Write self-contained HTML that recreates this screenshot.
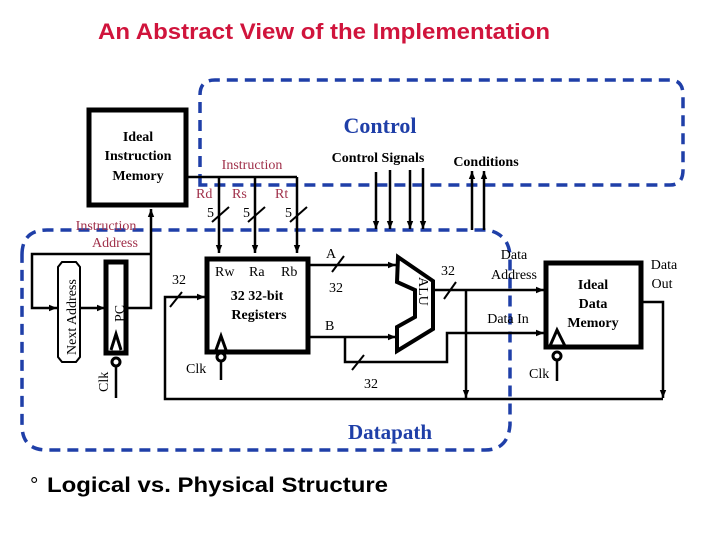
<!DOCTYPE html>
<html><head><meta charset="utf-8"><style>
body{margin:0;background:#fff;width:720px;height:540px;overflow:hidden}
svg{display:block}
.s{font-family:"Liberation Serif",serif}
</style></head><body>
<svg width="720" height="540" viewBox="0 0 720 540" xmlns="http://www.w3.org/2000/svg">
<defs><marker id="a" viewBox="0 0 10 10" refX="10" refY="5" markerUnits="userSpaceOnUse" markerWidth="8" markerHeight="8" orient="auto"><path d="M0,1 L10,5 L0,9 Z" fill="#000"/></marker></defs>
<text x="98" y="39" textLength="452" lengthAdjust="spacingAndGlyphs" font-family="Liberation Sans,sans-serif" font-size="22" font-weight="bold" fill="#d0143c">An Abstract View of the Implementation</text>

<path d="M200,185 L200,95 Q200,80 215,80 L670,80 Q683,80 683,95 L683,170 Q683,185 670,185 Z" fill="none" stroke="#1f3fa8" stroke-width="3.5" stroke-dasharray="11,7"/>
<path d="M22,255 Q22,230 47,230 L488,230 Q510,235 510,258 L510,425 Q508,450 485,450 L47,450 Q22,450 22,425 Z" fill="none" stroke="#1f3fa8" stroke-width="3.5" stroke-dasharray="11,7"/>

<text x="380" y="133" text-anchor="middle" class="s" font-size="22" font-weight="bold" fill="#1f3fa8">Control</text>
<text x="390" y="439" text-anchor="middle" class="s" font-size="21" font-weight="bold" fill="#1f3fa8">Datapath</text>

<g fill="none" stroke="#000" stroke-width="2.5">
<rect x="89" y="110" width="97" height="95" stroke-width="5"/>
<path d="M186,177 L297,177"/>
<path d="M219,177 L219,253" marker-end="url(#a)"/><path d="M255,177 L255,253" marker-end="url(#a)"/><path d="M297,177 L297,253" marker-end="url(#a)"/>
<path d="M212,222 L229,207 M248,222 L265,207 M290,222 L307,207" stroke-width="2"/>
<rect x="207" y="259" width="101" height="93" stroke-width="5"/>
<rect x="106" y="262" width="20" height="91" stroke-width="5"/>
<path d="M62,262 L76,262 L80,267 L80,357 L76,362 L62,362 L58,357 L58,267 Z" stroke-width="2"/>
<path d="M126,308 L151,308 L151,209" marker-end="url(#a)"/>
<path d="M151,254 L32,254 L32,308 L57,308" marker-end="url(#a)"/>
<path d="M80,308 L105,308" marker-end="url(#a)"/>
<path d="M111,350 L116,334 L121,350" stroke-width="3"/>
<circle cx="116" cy="362" r="4" stroke-width="3"/><path d="M116,366 L116,398"/>
<path d="M216,350 L221,336 L226,350" stroke-width="3"/>
<circle cx="221" cy="357" r="4" stroke-width="3"/><path d="M221,361 L221,380"/>
<path d="M550,346 L557,330 L565,346" stroke-width="3"/>
<circle cx="557" cy="356" r="4" stroke-width="3"/><path d="M557,360 L557,381"/>
<path d="M663,399 L165,399 L165,297 L205,297" marker-end="url(#a)"/>
<path d="M170,307 L182,292 M332,272 L344,256 M352,370 L364,355 M444,299 L456,282" stroke-width="2"/>
<path d="M308,265 L396,265" marker-end="url(#a)"/>
<path d="M308,337 L396,337" marker-end="url(#a)"/>
<path d="M345,337 L345,362 L447,362 L447,333 L544,333" marker-end="url(#a)"/>
<path d="M398,257 L433,281 L433,329 L397,351 L397,327 L415,317 L415,290 L397,282 Z" stroke-width="4"/>
<path d="M433,290 L544,290" marker-end="url(#a)"/>
<path d="M466,290 L466,398" marker-end="url(#a)"/>
<rect x="546" y="263" width="95" height="84" stroke-width="5"/>
<path d="M641,302 L663,302 L663,398" marker-end="url(#a)"/>
<path d="M376,172 L376,229" marker-end="url(#a)"/><path d="M390,170 L390,229" marker-end="url(#a)"/>
<path d="M410,170 L410,229" marker-end="url(#a)"/><path d="M423,168 L423,229" marker-end="url(#a)"/>
<path d="M472,230 L472,171" marker-end="url(#a)"/><path d="M484,230 L484,171" marker-end="url(#a)"/>
</g>

<g class="s" font-size="14" fill="#000">
<text x="138" y="141" text-anchor="middle" font-weight="bold">Ideal</text>
<text x="138" y="160" text-anchor="middle" font-weight="bold">Instruction</text>
<text x="138" y="180" text-anchor="middle" font-weight="bold">Memory</text>
<text x="252" y="169" text-anchor="middle" fill="#a0304a">Instruction</text>
<text x="196" y="198" fill="#a0304a">Rd</text><text x="232" y="198" fill="#a0304a">Rs</text><text x="275" y="198" fill="#a0304a">Rt</text>
<text x="207" y="217">5</text><text x="243" y="217">5</text><text x="285" y="217">5</text>
<text x="106" y="230" text-anchor="middle" fill="#a0304a">Instruction</text>
<text x="115" y="247" text-anchor="middle" fill="#a0304a">Address</text>
<text x="378" y="162" text-anchor="middle" font-weight="bold">Control Signals</text>
<text x="486" y="166" text-anchor="middle" font-weight="bold">Conditions</text>
<text x="215" y="276">Rw</text><text x="249" y="276">Ra</text><text x="281" y="276">Rb</text>
<text x="257" y="300" text-anchor="middle" font-weight="bold">32 32-bit</text>
<text x="259" y="319" text-anchor="middle" font-weight="bold">Registers</text>
<text x="172" y="284">32</text>
<text x="326" y="258">A</text><text x="329" y="292">32</text>
<text x="325" y="330">B</text><text x="364" y="388">32</text>
<text x="441" y="275">32</text>
<text x="514" y="259" text-anchor="middle">Data</text>
<text x="514" y="279" text-anchor="middle">Address</text>
<text x="508" y="323" text-anchor="middle">Data In</text>
<text x="593" y="289" text-anchor="middle" font-weight="bold">Ideal</text>
<text x="593" y="308" text-anchor="middle" font-weight="bold">Data</text>
<text x="593" y="327" text-anchor="middle" font-weight="bold">Memory</text>
<text x="664" y="269" text-anchor="middle">Data</text>
<text x="662" y="288" text-anchor="middle">Out</text>
<text x="186" y="373">Clk</text>
<text x="529" y="378">Clk</text>
<text transform="translate(108,392) rotate(-90)">Clk</text>
<text transform="translate(124,322) rotate(-90)">PC</text>
<text transform="translate(76,355) rotate(-90)">Next Address</text>
<text transform="translate(419,277) rotate(90)">ALU</text>
</g>
<text x="30" y="492" font-family="Liberation Sans,sans-serif" font-size="21" fill="#000">°</text>
<text x="47" y="492" textLength="341" lengthAdjust="spacingAndGlyphs" font-family="Liberation Sans,sans-serif" font-size="21" font-weight="bold" fill="#000">Logical vs. Physical Structure</text>
</svg>
</body></html>
